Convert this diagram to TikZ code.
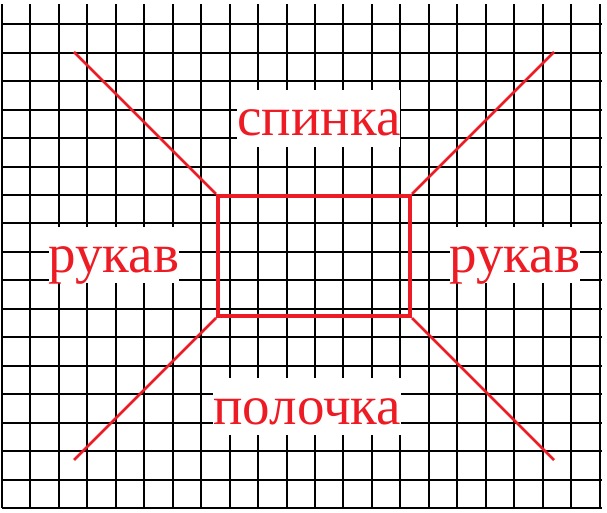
\documentclass[tikz,border=0pt]{standalone}
\usepackage{fontspec}
\setmainfont{Liberation Serif}
\definecolor{pencil}{HTML}{ED1C24}
\tikzset{
	sheetgrid/.style={black,line width=2pt},
	bodybox/.style={draw=pencil,line width=4pt,minimum width=192pt,minimum height=120pt,inner sep=0pt},
	seamline/.style={pencil,line width=2.6pt},
	partlabel/.style={fill=white,text=pencil,inner sep=0pt,anchor=base west,
		font=\fontsize{55}{64}\selectfont,text height=45.8pt,text depth=11.1pt}
}
\begin{document}
\begin{tikzpicture}[x=24pt,y=24pt]
	\useasboundingbox (-0.08333,-0.20833) rectangle (25.20833,21.16667);

	\draw[sheetgrid] (0,0) grid (25,21);

	\node[bodybox] (b) at (13,10.5) {};
	\coordinate (tl) at (3,19);
	\coordinate (tr) at (23,19);
	\coordinate (bl) at (3,2);
	\coordinate (br) at (23,2);
	\draw[seamline] (b.north west) -- (tl);
	\draw[seamline] (b.north east) -- (tr);
	\draw[seamline] (b.south west) -- (bl);
	\draw[seamline] (b.south east) -- (br);

	\node[partlabel] (back)  at (9.80,15.51) {спинка\hspace{.22em}};
	\node[partlabel] (left)  at (1.93,9.82)  {рукав\hspace{.2em}};
	\node[partlabel] (right) at (18.64,9.82) {рукав\hspace{.32em}};
	\node[partlabel] (front) at (8.80,3.49)  {полочка\hspace{.33em}};

\end{tikzpicture}
\end{document}
